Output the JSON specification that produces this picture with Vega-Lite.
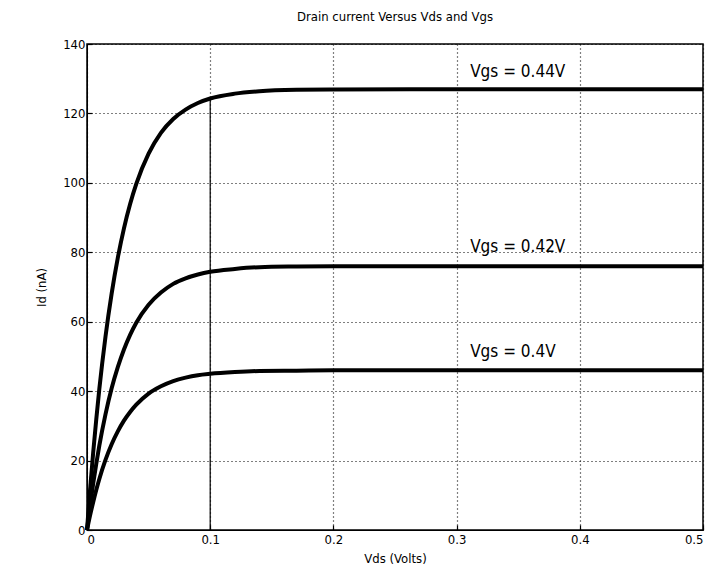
{
  "$schema": "https://vega.github.io/schema/vega-lite/v6.json",
  "width": 616,
  "height": 486,
  "autosize": {"type": "none"},
  "padding": {"left": 87, "top": 44, "right": 11, "bottom": 48},
  "background": "white",
  "title": {"text": "Drain current Versus Vds and Vgs", "fontSize": 13, "fontWeight": "normal", "font": "DejaVu Sans Condensed, Liberation Sans, sans-serif", "color": "black", "offset": 14},
  "config": {
    "view": {"stroke": "black", "strokeWidth": 1.5},
    "axis": {
      "domainColor": "black", "tickColor": "black", "labelColor": "black", "titleColor": "black",
      "gridColor": "black", "gridOpacity": 1, "gridDash": [1, 3], "gridWidth": 1.2,
      "labelFont": "DejaVu Sans Condensed, Liberation Sans, sans-serif", "titleFont": "DejaVu Sans Condensed, Liberation Sans, sans-serif",
      "labelFontSize": 13, "titleFontSize": 13, "titleFontWeight": "normal",
      "tickSize": -5, "tickWidth": 1.2
    }
  },
  "datasets": {
    "curves": [
      {"vds": 0, "id": 0, "vgs": "0.44"}, {"vds": 0.0025, "id": 11.6, "vgs": "0.44"}, {"vds": 0.005, "id": 22.2, "vgs": "0.44"}, {"vds": 0.0075, "id": 31.8, "vgs": "0.44"}, {"vds": 0.01, "id": 40.6, "vgs": "0.44"}, {"vds": 0.015, "id": 55.7, "vgs": "0.44"}, {"vds": 0.02, "id": 68.1, "vgs": "0.44"}, {"vds": 0.025, "id": 78.4, "vgs": "0.44"}, {"vds": 0.03, "id": 86.9, "vgs": "0.44"}, {"vds": 0.035, "id": 93.9, "vgs": "0.44"}, {"vds": 0.04, "id": 99.7, "vgs": "0.44"}, {"vds": 0.05, "id": 108.4, "vgs": "0.44"}, {"vds": 0.06, "id": 114.4, "vgs": "0.44"}, {"vds": 0.07, "id": 118.4, "vgs": "0.44"}, {"vds": 0.08, "id": 121.1, "vgs": "0.44"}, {"vds": 0.09, "id": 123.0, "vgs": "0.44"}, {"vds": 0.1, "id": 124.3, "vgs": "0.44"}, {"vds": 0.12, "id": 125.7, "vgs": "0.44"}, {"vds": 0.14, "id": 126.4, "vgs": "0.44"}, {"vds": 0.17, "id": 126.8, "vgs": "0.44"}, {"vds": 0.2, "id": 126.9, "vgs": "0.44"}, {"vds": 0.3, "id": 127, "vgs": "0.44"}, {"vds": 0.4, "id": 127, "vgs": "0.44"}, {"vds": 0.5, "id": 127, "vgs": "0.44"},
      {"vds": 0, "id": 0, "vgs": "0.42"}, {"vds": 0.0025, "id": 7.0, "vgs": "0.42"}, {"vds": 0.005, "id": 13.3, "vgs": "0.42"}, {"vds": 0.0075, "id": 19.0, "vgs": "0.42"}, {"vds": 0.01, "id": 24.3, "vgs": "0.42"}, {"vds": 0.015, "id": 33.3, "vgs": "0.42"}, {"vds": 0.02, "id": 40.8, "vgs": "0.42"}, {"vds": 0.025, "id": 46.9, "vgs": "0.42"}, {"vds": 0.03, "id": 52.0, "vgs": "0.42"}, {"vds": 0.035, "id": 56.2, "vgs": "0.42"}, {"vds": 0.04, "id": 59.7, "vgs": "0.42"}, {"vds": 0.05, "id": 64.9, "vgs": "0.42"}, {"vds": 0.06, "id": 68.4, "vgs": "0.42"}, {"vds": 0.07, "id": 70.9, "vgs": "0.42"}, {"vds": 0.08, "id": 72.5, "vgs": "0.42"}, {"vds": 0.09, "id": 73.6, "vgs": "0.42"}, {"vds": 0.1, "id": 74.4, "vgs": "0.42"}, {"vds": 0.12, "id": 75.2, "vgs": "0.42"}, {"vds": 0.14, "id": 75.7, "vgs": "0.42"}, {"vds": 0.17, "id": 75.9, "vgs": "0.42"}, {"vds": 0.2, "id": 76.0, "vgs": "0.42"}, {"vds": 0.3, "id": 76, "vgs": "0.42"}, {"vds": 0.4, "id": 76, "vgs": "0.42"}, {"vds": 0.5, "id": 76, "vgs": "0.42"},
      {"vds": 0, "id": 0, "vgs": "0.40"}, {"vds": 0.0025, "id": 4.2, "vgs": "0.40"}, {"vds": 0.005, "id": 8.0, "vgs": "0.40"}, {"vds": 0.0075, "id": 11.5, "vgs": "0.40"}, {"vds": 0.01, "id": 14.7, "vgs": "0.40"}, {"vds": 0.015, "id": 20.2, "vgs": "0.40"}, {"vds": 0.02, "id": 24.7, "vgs": "0.40"}, {"vds": 0.025, "id": 28.4, "vgs": "0.40"}, {"vds": 0.03, "id": 31.5, "vgs": "0.40"}, {"vds": 0.035, "id": 34.0, "vgs": "0.40"}, {"vds": 0.04, "id": 36.1, "vgs": "0.40"}, {"vds": 0.05, "id": 39.3, "vgs": "0.40"}, {"vds": 0.06, "id": 41.4, "vgs": "0.40"}, {"vds": 0.07, "id": 42.9, "vgs": "0.40"}, {"vds": 0.08, "id": 43.9, "vgs": "0.40"}, {"vds": 0.09, "id": 44.6, "vgs": "0.40"}, {"vds": 0.1, "id": 45.0, "vgs": "0.40"}, {"vds": 0.12, "id": 45.5, "vgs": "0.40"}, {"vds": 0.14, "id": 45.8, "vgs": "0.40"}, {"vds": 0.17, "id": 45.9, "vgs": "0.40"}, {"vds": 0.2, "id": 46.0, "vgs": "0.40"}, {"vds": 0.3, "id": 46, "vgs": "0.40"}, {"vds": 0.4, "id": 46, "vgs": "0.40"}, {"vds": 0.5, "id": 46, "vgs": "0.40"}
    ],
    "labels": [
      {"vds": 0.311, "id": 132, "label": "Vgs = 0.44V"},
      {"vds": 0.311, "id": 81.5, "label": "Vgs = 0.42V"},
      {"vds": 0.311, "id": 51.3, "label": "Vgs = 0.4V"}
    ],
    "marker": [{"vds": 0.1, "id": 0, "id2": 124.3}]
  },
  "layer": [
    {
      "data": {"name": "marker"},
      "mark": {"type": "rule", "color": "black", "strokeWidth": 1.2},
      "encoding": {
        "x": {"field": "vds", "type": "quantitative", "scale": {"domain": [0, 0.5], "nice": false}},
        "y": {"field": "id", "type": "quantitative", "scale": {"domain": [0, 140], "nice": false}},
        "y2": {"field": "id2"}
      }
    },
    {
      "data": {"name": "curves"},
      "mark": {"type": "line", "color": "black", "strokeWidth": 4, "interpolate": "monotone"},
      "encoding": {
        "x": {"field": "vds", "type": "quantitative", "scale": {"domain": [0, 0.5], "nice": false},
          "axis": {"title": "Vds (Volts)", "values": [0, 0.1, 0.2, 0.3, 0.4, 0.5], "format": "~g", "labelPadding": 8, "titlePadding": 6}},
        "y": {"field": "id", "type": "quantitative", "scale": {"domain": [0, 140], "nice": false},
          "axis": {"title": "Id (nA)", "values": [0, 20, 40, 60, 80, 100, 120, 140], "labelPadding": 7, "titlePadding": 14}},
        "detail": {"field": "vgs", "type": "nominal"}
      }
    },
    {
      "data": {"name": "labels"},
      "mark": {"type": "text", "align": "left", "baseline": "middle", "fontSize": 17, "font": "DejaVu Sans Condensed, Liberation Sans, sans-serif", "color": "black"},
      "encoding": {
        "x": {"field": "vds", "type": "quantitative"},
        "y": {"field": "id", "type": "quantitative"},
        "text": {"field": "label"}
      }
    }
  ]
}
